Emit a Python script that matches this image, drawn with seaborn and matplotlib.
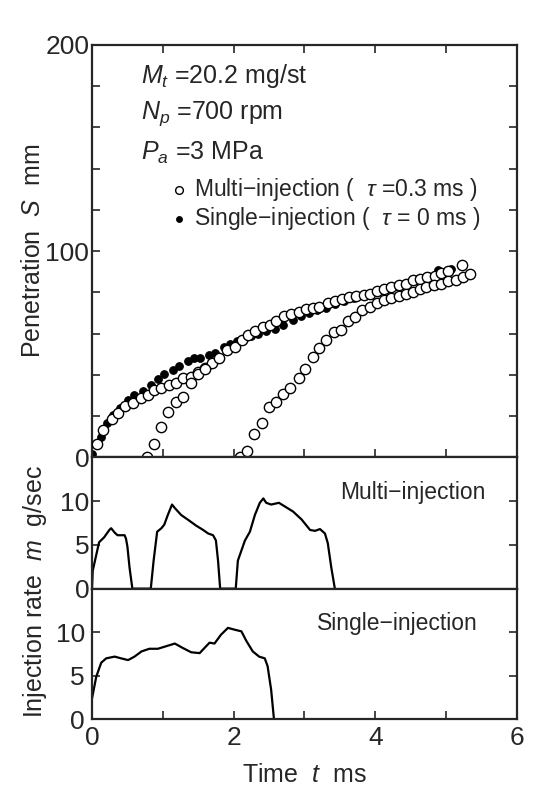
import numpy as np
import pandas as pd
import matplotlib.pyplot as plt
import seaborn as sns
from matplotlib.ticker import FuncFormatter

# Penetration data
single_t = [0.00, 0.12, 0.21, 0.30, 0.40, 0.51, 0.60, 0.72, 0.84, 0.93, 1.02, 1.14, 1.23, 1.35,
            1.44, 1.53, 1.65, 1.74, 1.86, 1.95, 2.05, 2.15, 2.25, 2.35, 2.46, 2.58, 2.70, 2.84,
            2.95, 3.07, 3.18, 3.30, 3.43, 3.56, 3.70, 3.85, 4.00, 4.15, 4.30, 4.45, 4.60, 4.75,
            4.88, 5.07]
single_s = [1.5, 9.7, 16.5, 20.5, 24.0, 27.8, 30.1, 32.0, 35.0, 37.9, 40.2, 42.5, 44.4, 46.8,
            47.9, 48.1, 49.5, 50.5, 53.3, 55.0, 56.4, 57.5, 58.8, 60.0, 61.0, 62.1, 64.0, 66.5,
            68.3, 70.0, 71.2, 72.6, 74.2, 75.7, 77.3, 78.6, 80.0, 81.6, 83.0, 84.5, 86.3, 88.0,
            90.7, 91.2]

multi1_t = [0.07, 0.16, 0.28, 0.37, 0.47, 0.58, 0.69, 0.79, 0.88, 0.98, 1.09, 1.19, 1.29, 1.40,
            1.50, 1.60, 1.70, 1.79, 1.91, 2.02, 2.12, 2.21, 2.30, 2.41, 2.51, 2.60, 2.71, 2.81,
            2.92, 3.02, 3.12, 3.21, 3.33, 3.43, 3.53, 3.63, 3.73, 3.84, 3.93, 4.02, 4.13, 4.23,
            4.33, 4.43, 4.53, 4.63, 4.73, 4.84, 4.93, 5.03, 5.23]
multi1_s = [6.2, 13.4, 18.5, 21.6, 24.7, 26.3, 28.6, 30.4, 32.5, 33.7, 35.1, 36.0, 38.2, 39.1,
            41.3, 43.3, 45.6, 47.9, 51.8, 53.6, 56.7, 59.2, 61.4, 63.4, 64.1, 66.0, 68.5, 69.6,
            70.3, 71.9, 72.6, 73.1, 74.7, 75.7, 76.8, 77.7, 78.4, 78.8, 79.3, 80.4, 81.5, 82.7,
            83.5, 84.2, 85.8, 86.6, 87.3, 88.1, 89.2, 90.1, 93.2]

multi2_t = [0.78, 0.87, 0.98, 1.08, 1.19, 1.29, 1.40, 1.50, 1.60]
multi2_s = [0.0, 6.6, 14.7, 22.1, 26.7, 29.4, 36.0, 40.6, 42.8]

multi3_t = [2.09, 2.19, 2.29, 2.40, 2.50, 2.60, 2.70, 2.80, 2.92, 3.01, 3.12, 3.21, 3.31, 3.42,
            3.51, 3.62, 3.72, 3.82, 3.93, 4.02, 4.12, 4.22, 4.33, 4.43, 4.53, 4.63, 4.72, 4.83,
            4.93, 5.03, 5.14, 5.24, 5.34]
multi3_s = [0.0, 2.9, 11.3, 16.8, 24.3, 26.7, 30.6, 33.7, 38.3, 43.0, 48.7, 53.0, 56.7, 60.7,
            61.8, 66.2, 68.2, 71.6, 73.1, 75.0, 76.5, 77.1, 78.4, 79.3, 79.9, 81.5, 82.7, 83.5,
            84.2, 85.3, 86.1, 87.3, 88.9]

# Injection rate traces
rate_multi_t = [0.00, 0.01, 0.10, 0.17, 0.245, 0.27, 0.32, 0.36, 0.46, 0.48, 0.50, 0.53, 0.57,
                0.83, 0.87, 0.92, 0.98, 1.02, 1.07, 1.13, 1.17, 1.26, 1.35, 1.47, 1.57, 1.64,
                1.71, 1.75, 1.78, 1.81, 2.03, 2.06, 2.16, 2.23, 2.30, 2.37, 2.42, 2.46, 2.53,
                2.64, 2.72, 2.84, 2.96, 3.08, 3.15, 3.22, 3.29, 3.33, 3.38, 3.43]
rate_multi_m = [0.0, 2.05, 5.3, 5.85, 6.7, 6.9, 6.4, 6.1, 6.1, 5.7, 4.8, 2.4, 0.0,
                0.0, 3.2, 6.5, 6.9, 7.3, 8.4, 9.6, 9.2, 8.4, 7.9, 7.2, 6.7, 6.3,
                6.1, 5.5, 3.2, 0.0, 0.0, 3.2, 5.5, 6.5, 8.4, 9.8, 10.3, 9.8, 9.6,
                9.8, 9.4, 8.8, 7.9, 6.7, 6.6, 6.8, 6.3, 5.2, 2.4, 0.0]

rate_single_t = [0.00, 0.06, 0.13, 0.20, 0.32, 0.41, 0.51, 0.60, 0.70, 0.81, 0.93, 1.05, 1.17,
                 1.28, 1.40, 1.52, 1.59, 1.66, 1.73, 1.82, 1.92, 2.01, 2.11, 2.18, 2.27, 2.36,
                 2.44, 2.48, 2.53, 2.57]
rate_single_m = [2.4, 4.9, 6.5, 7.0, 7.2, 7.0, 6.8, 7.2, 7.8, 8.1, 8.1, 8.4, 8.7,
                 8.2, 7.7, 7.6, 8.2, 8.8, 8.7, 9.7, 10.5, 10.3, 10.1, 9.0, 7.8, 7.2,
                 7.0, 6.1, 3.4, 0.0]

sns.set_style("ticks")
plt.rcParams['font.family'] = ['Liberation Sans', 'DejaVu Sans']
plt.rcParams['mathtext.fontset'] = 'custom'
plt.rcParams['mathtext.rm'] = 'Liberation Sans'
plt.rcParams['mathtext.it'] = 'Liberation Sans:italic'

fig = plt.figure(figsize=(5.35, 7.87), dpi=100)
L, W = 0.172, 0.794
ax1 = fig.add_axes([L, 0.419, W, 0.524])
ax2 = fig.add_axes([L, 0.252, W, 0.167])
ax3 = fig.add_axes([L, 0.086, W, 0.166])

# --- penetration panel
single = pd.DataFrame({'t': single_t, 's': single_s})
multi = pd.concat([pd.DataFrame({'t': multi1_t, 's': multi1_s}),
                   pd.DataFrame({'t': multi2_t, 's': multi2_s}),
                   pd.DataFrame({'t': multi3_t, 's': multi3_s})])
sns.scatterplot(data=single, x='t', y='s', ax=ax1, color='black', s=30,
                edgecolor='black', linewidth=0.8, zorder=2,
                label='Single\u2212injection (  $\\tau$ = 0 ms )')
sns.scatterplot(data=multi, x='t', y='s', ax=ax1, facecolor='white', s=55,
                edgecolor='black', linewidth=1.0, zorder=3,
                label='Multi\u2212injection (  $\\tau$ =0.3 ms )')
h, l = ax1.get_legend_handles_labels()
ax1.legend(h[::-1], l[::-1], frameon=False, loc='upper left', bbox_to_anchor=(0.15, 0.71),
           fontsize=16.5, handletextpad=0.15, borderpad=0, labelspacing=0.1,
           markerscale=0.75, handlelength=1.0)

ax1.set_xlim(0, 6)
ax1.set_ylim(0, 200)
ax1.set_xticks(range(0, 7))
ax1.set_xticklabels([])
ax1.set_yticks(range(0, 201, 20))
ax1.yaxis.set_major_formatter(FuncFormatter(lambda v, p: f'{int(v)}' if v % 100 == 0 else ''))
ax1.set_xlabel('')
ax1.set_ylabel('Penetration  $S$  mm', fontsize=18, labelpad=0)

ax1.text(0.115, 0.925, '$M_t$ =20.2 mg/st', transform=ax1.transAxes, fontsize=18, va='center')
ax1.text(0.115, 0.832, '$N_p$ =700 rpm', transform=ax1.transAxes, fontsize=18, va='center')
ax1.text(0.115, 0.737, '$P_a$ =3 MPa', transform=ax1.transAxes, fontsize=18, va='center')

# --- injection rate panels
sns.lineplot(x=rate_multi_t, y=rate_multi_m, ax=ax2, color='black', linewidth=1.6)
sns.lineplot(x=rate_single_t, y=rate_single_m, ax=ax3, color='black', linewidth=1.6)
ax2.text(0.585, 0.735, 'Multi\u2212injection', transform=ax2.transAxes, fontsize=16.5, va='center')
ax3.text(0.53, 0.735, 'Single\u2212injection', transform=ax3.transAxes, fontsize=16.5, va='center')

for ax in (ax2, ax3):
    ax.set_xlim(0, 6)
    ax.set_ylim(0, 15)
    ax.set_yticks([0, 5, 10])
    ax.set_ylabel('')
ax2.set_xticks([])
ax3.set_xticks(range(0, 7))
ax3.xaxis.set_major_formatter(FuncFormatter(lambda v, p: f'{int(v)}' if v % 2 == 0 else ''))
ax3.set_xlabel('Time  $t$  ms', fontsize=18, labelpad=9)

for ax in (ax1, ax2, ax3):
    ax.tick_params(direction='in', top=True, right=True, length=6, width=1.2,
                   labelsize=19, pad=2)
    for sp in ax.spines.values():
        sp.set_visible(True)
        sp.set_linewidth(1.6)
ax2.tick_params(top=False)
ax3.tick_params(top=False, pad=5)

fig.text(0.065, 0.248, 'Injection rate  $m$  g/sec', rotation=90, fontsize=18,
         ha='center', va='center')

fig.savefig('out.png', dpi=100)
